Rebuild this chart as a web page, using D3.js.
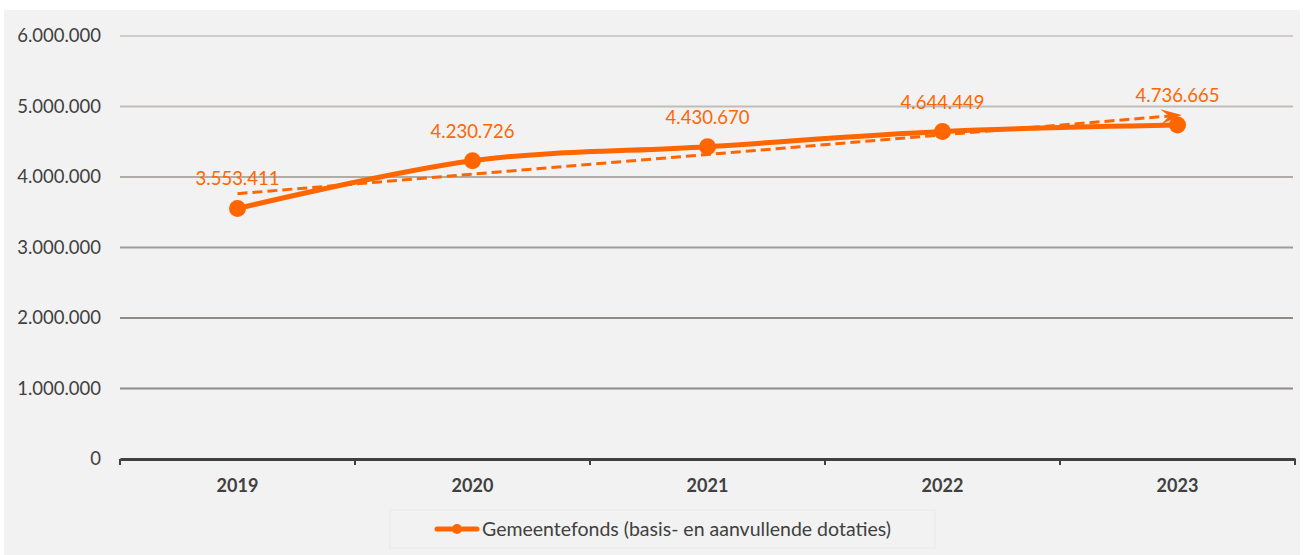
<!DOCTYPE html>
<html>
<head>
<meta charset="utf-8">
<script src="https://cdn.jsdelivr.net/npm/d3@7"></script>
<style>
  html, body { margin: 0; padding: 0; background: #fff; }
  svg { display: block; font-family: Lato, "Open Sans", sans-serif; }
</style>
</head>
<body>
<svg id="svg" width="1303" height="555"></svg>
<script>
const years = ["2019", "2020", "2021", "2022", "2023"];
const values = [3553411, 4230726, 4430670, 4644449, 4736665];
const yTicks = [0, 1000000, 2000000, 3000000, 4000000, 5000000, 6000000];
const seriesName = "Gemeentefonds (basis- en aanvullende dotaties)";

const orange = "#ff6600";
const textGrey = "#404040";

const svg = d3.select("#svg");

// chart area background
svg.append("rect")
  .attr("x", 4).attr("y", 10)
  .attr("width", 1296).attr("height", 545)
  .attr("fill", "#f2f2f2");

const x = d3.scaleBand().domain(years).range([120, 1295]);
const y = d3.scaleLinear().domain([0, 6000000]).range([459, 36]);

const fmt = (v) => d3.format(",")(v).replace(/,/g, ".");

// gridlines get darker toward the bottom
const gridColor = d3.scaleLinear().domain([6000000, 2000000]).range(["#d0cdc9", "#8f8c88"]).clamp(true);

svg.append("g")
  .selectAll("line")
  .data(yTicks.filter((d) => d > 0))
  .join("line")
  .attr("x1", 120).attr("x2", 1293)
  .attr("y1", (d) => y(d)).attr("y2", (d) => y(d))
  .attr("stroke", (d) => gridColor(d))
  .attr("stroke-width", 2);

// y labels
svg.append("g")
  .selectAll("text")
  .data(yTicks)
  .join("text")
  .attr("x", 101)
  .attr("y", (d) => y(d))
  .attr("dy", "0.35em")
  .attr("text-anchor", "end")
  .attr("font-size", 18.5)
  .attr("fill", textGrey)
  .text((d) => fmt(d));

// x axis
const xAxis = d3.axisBottom(x).tickSize(0).tickFormat("");
const gx = svg.append("g").attr("transform", `translate(0,${y(0)})`).call(xAxis);
gx.select(".domain").attr("stroke", textGrey).attr("stroke-width", 3);
const bounds = years.map((d) => x(d)).concat([x.range()[1]]);
gx.selectAll(".bound")
  .data(bounds)
  .join("line")
  .attr("class", "bound")
  .attr("x1", (d) => d).attr("x2", (d) => d)
  .attr("y1", 0).attr("y2", 6)
  .attr("stroke", textGrey).attr("stroke-width", 2);

svg.append("g")
  .selectAll("text")
  .data(years)
  .join("text")
  .attr("x", (d) => x(d) + x.bandwidth() / 2)
  .attr("y", 492)
  .attr("text-anchor", "middle")
  .attr("font-size", 18)
  .attr("font-weight", "bold")
  .attr("fill", textGrey)
  .text((d) => d);

const cx = (i) => x(years[i]) + x.bandwidth() / 2;

// linear trend (least squares)
const n = values.length;
const mx = d3.mean(values, (d, i) => i);
const my = d3.mean(values);
const slope = d3.sum(values, (d, i) => (i - mx) * (d - my)) / d3.sum(values, (d, i) => (i - mx) ** 2);
const icpt = my - slope * mx;

svg.append("defs").append("marker")
  .attr("id", "arrow")
  .attr("viewBox", "0 0 10 10")
  .attr("refX", 8).attr("refY", 5)
  .attr("markerWidth", 7).attr("markerHeight", 5)
  .attr("markerUnits", "strokeWidth")
  .attr("orient", "auto")
  .attr("preserveAspectRatio", "none")
  .append("path")
  .attr("d", "M0,0 L10,5 L0,10 L4,5 Z")
  .attr("fill", orange);

svg.append("line")
  .attr("x1", cx(0)).attr("y1", y(icpt))
  .attr("x2", cx(n - 1)).attr("y2", y(icpt + slope * (n - 1)))
  .attr("stroke", orange)
  .attr("stroke-width", 3)
  .attr("stroke-dasharray", "10,5")
  .attr("marker-end", "url(#arrow)");

// series line
const line = d3.line()
  .x((d, i) => cx(i))
  .y((d) => y(d))
  .curve(d3.curveCardinal.tension(0));

svg.append("path")
  .datum(values)
  .attr("d", line)
  .attr("fill", "none")
  .attr("stroke", orange)
  .attr("stroke-width", 5)
  .attr("stroke-linecap", "round");

svg.append("g")
  .selectAll("circle")
  .data(values)
  .join("circle")
  .attr("cx", (d, i) => cx(i))
  .attr("cy", (d) => y(d))
  .attr("r", 8.5)
  .attr("fill", orange);

svg.append("g")
  .selectAll("text")
  .data(values)
  .join("text")
  .attr("x", (d, i) => cx(i))
  .attr("y", (d) => y(d) - 23)
  .attr("text-anchor", "middle")
  .attr("font-size", 18.5)
  .attr("fill", orange)
  .text((d) => fmt(d));

// legend
const lg = svg.append("g");
lg.append("rect")
  .attr("x", 390).attr("y", 510)
  .attr("width", 545).attr("height", 38)
  .attr("fill", "#f2f2f2")
  .attr("stroke", "#e8e8e8");
lg.append("line")
  .attr("x1", 437).attr("x2", 477)
  .attr("y1", 529).attr("y2", 529)
  .attr("stroke", orange).attr("stroke-width", 5)
  .attr("stroke-linecap", "round");
lg.append("circle")
  .attr("cx", 457).attr("cy", 529).attr("r", 5)
  .attr("fill", orange);
lg.append("text")
  .attr("x", 482).attr("y", 529)
  .attr("dy", "0.35em")
  .attr("font-size", 19.5)
  .attr("fill", textGrey)
  .text(seriesName);
</script>
</body>
</html>
